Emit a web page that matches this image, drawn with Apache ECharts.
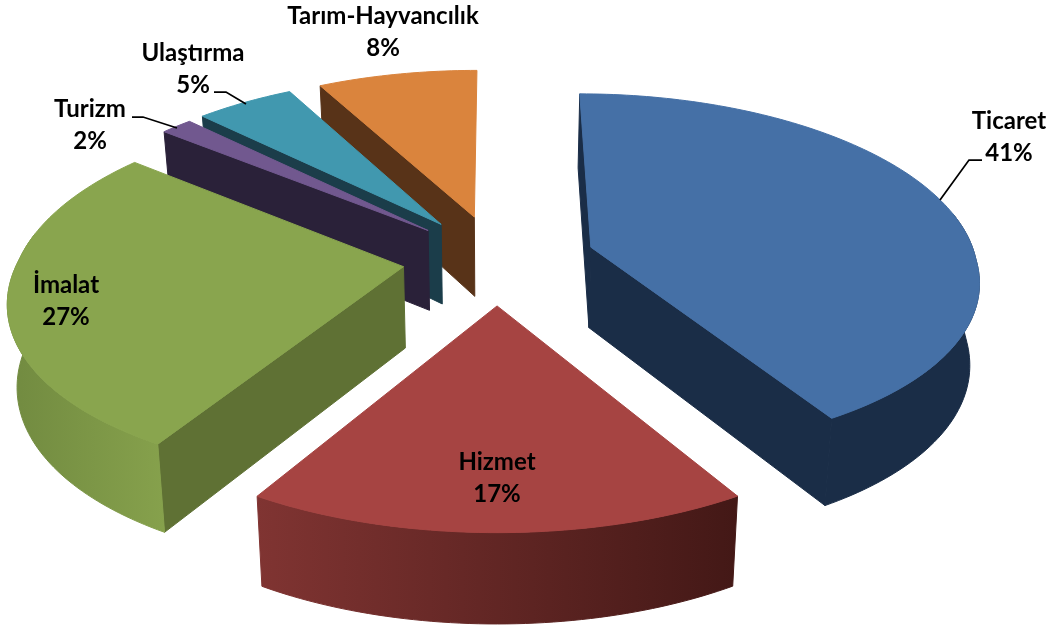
<!DOCTYPE html>
<html>
<head>
<meta charset="utf-8">
<title>Sektörler</title>
<script src="https://cdn.jsdelivr.net/npm/echarts@6/dist/echarts.min.js"></script>
<style>
    html, body { margin: 0; padding: 0; background: #fff; }
    #chart { width: 1055px; height: 632px; }
</style>
</head>
<body>
<div id="chart"></div>
<script>
const categories = ['Ticaret', 'Hizmet', 'İmalat', 'Turizm', 'Ulaştırma', 'Tarım-Hayvancılık'];
// the labels show these rounded
const shares = [41.49, 17.0, 27.4, 1.55, 4.8, 7.76];

const topColors = ['#4570A6', '#A64442', '#89A54E', '#71588F', '#4198AF', '#DA843D'];
const wallColors = ['#1A2D47', '#431816', '#5F7134', '#2A2139', '#1B3D4A', '#583318'];
const rimLeft = ['#1A2D47', '#803432', '#718A40', '#2A2139', '#1B3D4A', '#583318'];
const rimRight = ['#1A2D47', '#431816', '#86A14C', '#2A2139', '#1B3D4A', '#583318'];

// how far each slice is pulled out of the pie, in pie radii
const explode = [0.255, 0.255, 0.245, 0.246, 0.25, 0.252];
// back slices are painted first
const paintOrder = [5, 4, 3, 0, 2, 1];

const view = {
    cx: 497, cy: 259, xs: 385, ys: 177,
    kxFront: 0.165, kyFront: 0.15, kBack: 0.135,
    height: 81, heightK: 0.09, shrink: 0.02
};

// label centre per slice, leader line where the label sits off the slice
const labelSpots = [
    { x: 1009, y: 137, line: [[940, 200], [969, 160], [982, 160]] },
    { x: 497, y: 478 },
    { x: 66, y: 301 },
    { x: 90, y: 125, line: [[177, 128], [143, 117], [132, 117]] },
    { x: 193, y: 69, line: [[246, 104], [226, 92], [214, 92]] },
    { x: 383, y: 32 }
];

function project(x3, y3, bottom) {
    const wx = 1 + (y3 > 0 ? view.kBack : view.kxFront) * y3;
    const wy = 1 + (y3 > 0 ? view.kBack : view.kyFront) * y3;
    let x = view.cx + view.xs * x3 / wx;
    let y = view.cy - view.ys * y3 / wy;
    if (bottom) {
        x = view.cx + (x - view.cx) * (1 - view.shrink);
        y += view.height / (1 + view.heightK * y3);
    }
    return [x, y];
}

function sliceAngles(index) {
    const total = shares.reduce((sum, v) => sum + v, 0);
    const before = shares.slice(0, index).reduce((sum, v) => sum + v, 0);
    const start = before / total * Math.PI * 2;
    const end = (before + shares[index]) / total * Math.PI * 2;
    return { start, end };
}

function polygon(points, fill) {
    // stroke in the fill colour so neighbouring faces leave no hairline
    return { type: 'polygon', shape: { points: points }, style: { fill: fill, stroke: fill, lineWidth: 1 } };
}

function renderSlice(params, api) {
    const index = api.value(0);
    const { start, end } = sliceAngles(index);
    const mid = (start + end) / 2;
    const ox = explode[index] * Math.sin(mid);
    const oy = explode[index] * Math.cos(mid);

    const steps = Math.max(4, Math.ceil((end - start) / 0.02));
    const rimTop = [];
    const rimFront = [];
    const rimFrontBottom = [];
    for (let i = 0; i <= steps; i++) {
        const a = start + (end - start) * i / steps;
        const x3 = ox + Math.sin(a);
        const y3 = oy + Math.cos(a);
        rimTop.push(project(x3, y3, false));
        // the back of the rim is never seen
        if (Math.cos(a) < 0.2) {
            rimFront.push(project(x3, y3, false));
            rimFrontBottom.push(project(x3, y3, true));
        }
    }
    const apexTop = project(ox, oy, false);
    const apexBottom = project(ox, oy, true);

    const children = [];
    // only the cut faces turned to the viewer
    if (Math.sin(start) <= 1e-6) {
        children.push(polygon([apexTop, rimTop[0], project(ox + Math.sin(start), oy + Math.cos(start), true), apexBottom], wallColors[index]));
    }
    if (Math.sin(end) > 1e-6) {
        children.push(polygon([apexTop, rimTop[steps], project(ox + Math.sin(end), oy + Math.cos(end), true), apexBottom], wallColors[index]));
    }
    if (rimFront.length > 1) {
        const rimFill = new echarts.graphic.LinearGradient(0, 0, 1, 0, [
            { offset: 0, color: rimLeft[index] },
            { offset: 1, color: rimRight[index] }
        ]);
        children.push(polygon(rimFront.concat(rimFrontBottom.reverse()), rimFill));
    }
    children.push(polygon([apexTop].concat(rimTop), topColors[index]));

    return { type: 'group', children: children };
}

function renderLabel(params, api) {
    const index = api.value(0);
    const spot = labelSpots[index];
    const children = [{
        type: 'text',
        style: {
            text: categories[index] + '\n' + Math.round(shares[index]) + '%',
            x: spot.x,
            y: spot.y,
            align: 'center',
            verticalAlign: 'middle',
            font: 'bold 24px Lato',
            lineHeight: 32,
            fill: '#000'
        }
    }];
    if (spot.line) {
        children.push({
            type: 'polyline',
            shape: { points: spot.line },
            style: { stroke: '#000', lineWidth: 1.75, fill: 'none' }
        });
    }
    return { type: 'group', children: children };
}

const myChart = echarts.init(document.getElementById('chart'));

myChart.setOption({
    backgroundColor: '#fff',
    animation: false,
    series: [
        {
            type: 'custom',
            coordinateSystem: 'none',
            renderItem: renderSlice,
            data: paintOrder.map(i => [i, shares[i]]),
            silent: true
        },
        {
            type: 'custom',
            coordinateSystem: 'none',
            renderItem: renderLabel,
            data: categories.map((name, i) => [i, shares[i]]),
            silent: true,
            z: 3
        }
    ]
});
</script>
</body>
</html>
